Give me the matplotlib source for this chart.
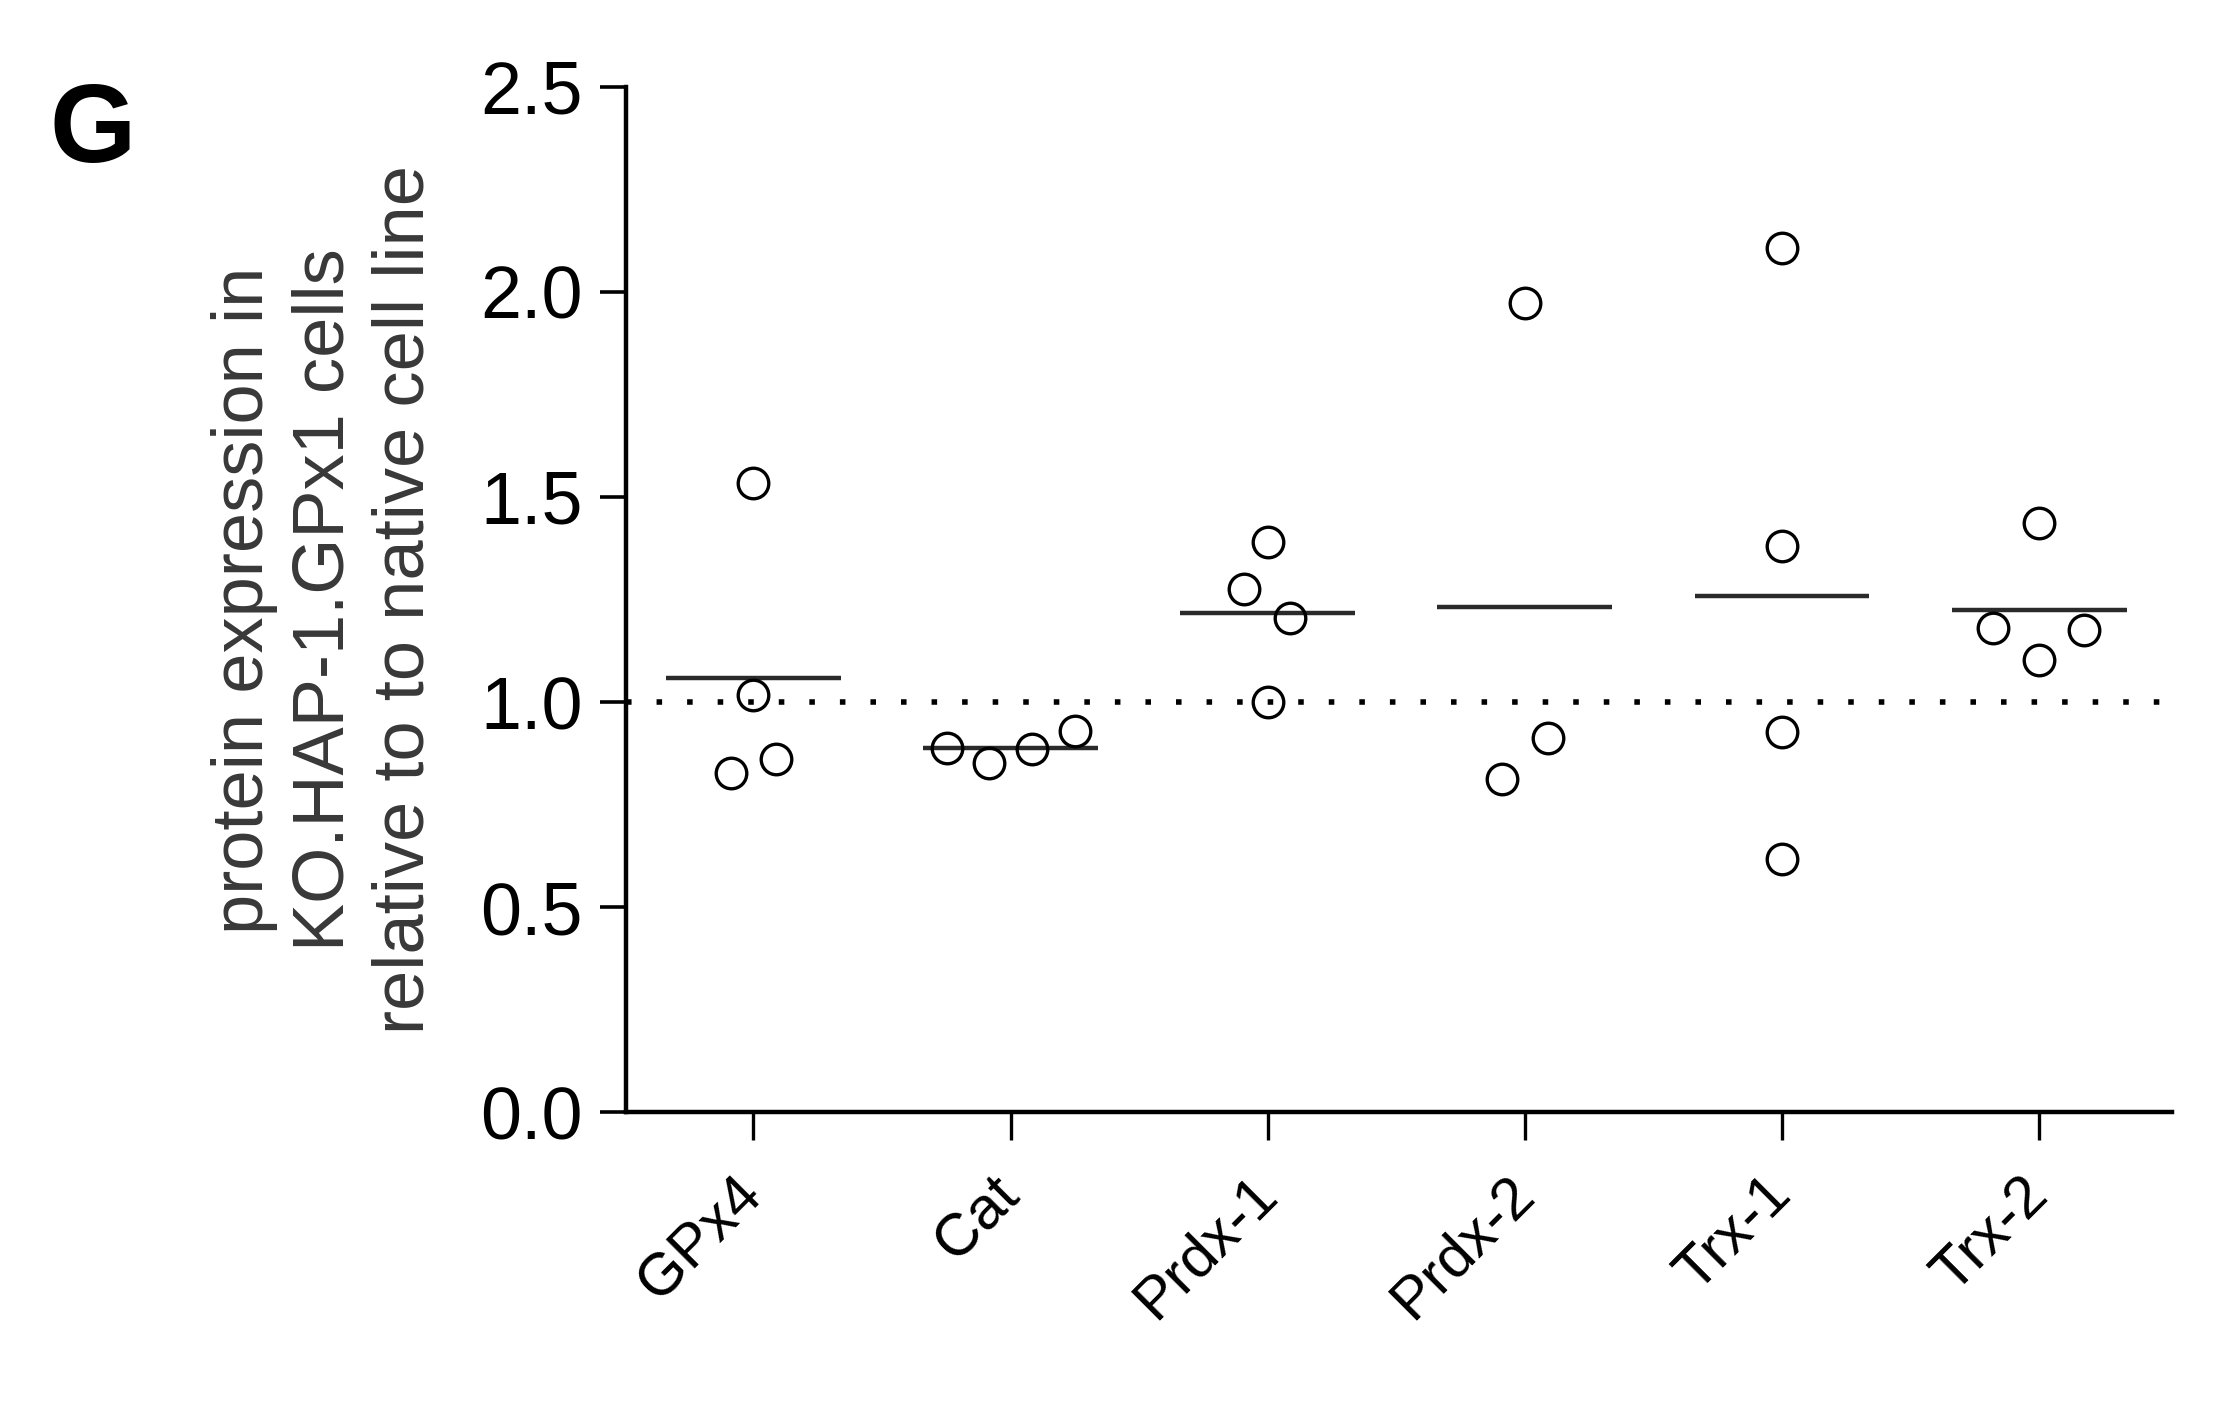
import numpy as np
import matplotlib
matplotlib.use('Agg')
import matplotlib.pyplot as plt
from matplotlib.ticker import FormatStrFormatter

plt.rcParams['font.family'] = ['Liberation Sans', 'DejaVu Sans']

# ---- data ----
categories = ['GPx4', 'Cat', 'Prdx-1', 'Prdx-2', 'Trx-1', 'Trx-2']
gpx4 = [1.535, 1.017, 0.827, 0.860]
cat = [0.889, 0.852, 0.885, 0.930]
prdx1 = [1.390, 1.276, 1.204, 1.000]
prdx2 = [1.972, 0.912, 0.813]
trx1 = [2.107, 1.381, 0.926, 0.618]
trx2 = [1.436, 1.181, 1.102, 1.176]
series = [gpx4, cat, prdx1, prdx2, trx1, trx2]
reference_level = 1.0
yticks = [0.0, 0.5, 1.0, 1.5, 2.0, 2.5]
ylabel = 'protein expression in\nKO.HAP-1.GPx1 cells\nrelative to to native cell line'

# horizontal scatter of points within each column (layout only)
offsets = [[0, 0, -0.088, 0.088],
           [-0.247, -0.084, 0.084, 0.251],
           [0, -0.093, 0.088, 0],
           [0, 0.088, -0.088],
           [0, 0, 0, 0],
           [0, -0.178, 0, 0.175]]

fig = plt.figure(figsize=(22.16, 14.03), dpi=100)
ax = fig.add_axes([0.2825, 0.2074, 0.980 - 0.2825, 0.938 - 0.2074])

ax.axhline(reference_level, ls=(0, (1, 4.5)), lw=4.0, color='black', zorder=1)

for i, (vals, offs) in enumerate(zip(series, offsets)):
    x = np.array(offs) + i
    ax.plot(x, vals, 'o', mfc='none', mec='black', ms=22, mew=2.4, zorder=3)
    m = np.mean(vals)
    ax.hlines(m, i - 0.34, i + 0.34, color='#2a2a2a', lw=3.2, zorder=2)

ax.set_xlim(-0.495, 5.515)
ax.set_ylim(0, 2.5)
ax.set_yticks(yticks)
ax.yaxis.set_major_formatter(FormatStrFormatter('%.1f'))
ax.set_xticks(range(len(categories)))
ax.set_xticklabels(categories, rotation=45, ha='right', va='center',
                   rotation_mode='anchor')

for s in ['top', 'right']:
    ax.spines[s].set_visible(False)
for s in ['left', 'bottom']:
    ax.spines[s].set_linewidth(3.2)

ax.tick_params(axis='y', length=19, width=2.6, pad=12, labelsize=53)
ax.tick_params(axis='x', length=20, width=2.4, pad=33, labelsize=43)

fig.text(325 / 2216, 1 - 600 / 1403, ylabel, rotation=90, ha='center', va='center',
         multialignment='center', fontsize=52, linespacing=1.25, color='#383838')

fig.text(50 / 2216, 1 - 162 / 1403, 'G', fontsize=80, fontweight='bold',
         ha='left', va='baseline')

fig.savefig('out.png', dpi=100)
